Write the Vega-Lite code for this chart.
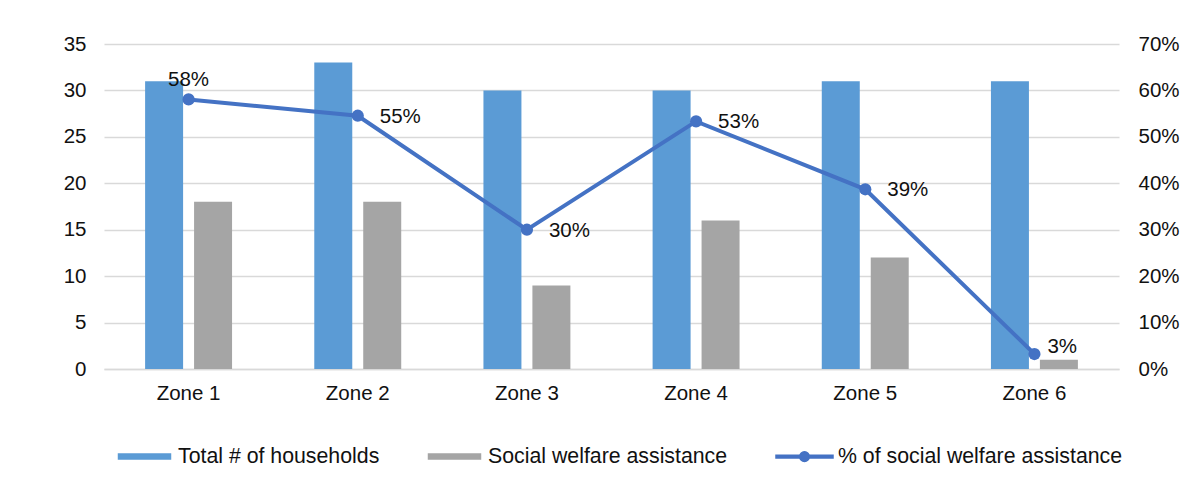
{
  "$schema": "https://vega.github.io/schema/vega-lite/v6.json",
  "width": 1015,
  "height": 325,
  "autosize": "none",
  "padding": {"left": 104, "top": 44, "right": 81, "bottom": 115},
  "background": "white",
  "config": {
    "font": "Liberation Sans",
    "view": {"stroke": null},
    "axis": {"labelFont": "Liberation Sans", "labelFontSize": 20.5, "labelColor": "#111111", "ticks": false, "title": null},
    "legend": {"labelFont": "Liberation Sans", "labelFontSize": 21.3, "labelColor": "#111111", "labelLimit": 0}
  },
  "datasets": {
    "bars": [
      {"zone": "Zone 1", "series": "Total # of households", "value": 31},
      {"zone": "Zone 1", "series": "Social welfare assistance", "value": 18},
      {"zone": "Zone 2", "series": "Total # of households", "value": 33},
      {"zone": "Zone 2", "series": "Social welfare assistance", "value": 18},
      {"zone": "Zone 3", "series": "Total # of households", "value": 30},
      {"zone": "Zone 3", "series": "Social welfare assistance", "value": 9},
      {"zone": "Zone 4", "series": "Total # of households", "value": 30},
      {"zone": "Zone 4", "series": "Social welfare assistance", "value": 16},
      {"zone": "Zone 5", "series": "Total # of households", "value": 31},
      {"zone": "Zone 5", "series": "Social welfare assistance", "value": 12},
      {"zone": "Zone 6", "series": "Total # of households", "value": 31},
      {"zone": "Zone 6", "series": "Social welfare assistance", "value": 1}
    ],
    "pct": [
      {"zone": "Zone 1", "pct": 0.5806, "pos": "above"},
      {"zone": "Zone 2", "pct": 0.5455, "pos": "right"},
      {"zone": "Zone 3", "pct": 0.3, "pos": "right"},
      {"zone": "Zone 4", "pct": 0.5333, "pos": "right"},
      {"zone": "Zone 5", "pct": 0.3871, "pos": "right"},
      {"zone": "Zone 6", "pct": 0.0323, "pos": "aboveright"}
    ]
  },
  "layer": [
    {
      "data": {"name": "bars"},
      "mark": {"type": "bar"},
      "encoding": {
        "x": {
          "field": "zone", "type": "nominal", "sort": null,
          "scale": {"paddingInner": 0.486, "paddingOuter": 0.243},
          "axis": {"labelAngle": 0, "labelPadding": 14, "domain": true, "domainColor": "#D9D9D9", "domainWidth": 1.5, "grid": false}
        },
        "xOffset": {
          "field": "series", "type": "nominal",
          "scale": {"domain": ["Total # of households", "Social welfare assistance"], "paddingInner": 0.224, "paddingOuter": 0}
        },
        "y": {
          "field": "value", "type": "quantitative",
          "scale": {"domain": [0, 35], "nice": false},
          "axis": {"values": [0, 5, 10, 15, 20, 25, 30, 35], "grid": true, "gridColor": "#D9D9D9", "gridWidth": 1.5, "domain": false, "labelPadding": 18}
        },
        "color": {
          "field": "series", "type": "nominal",
          "scale": {
            "domain": ["Total # of households", "Social welfare assistance", "% of social welfare assistance"],
            "range": ["#5B9BD5", "#A5A5A5", "#4472C4"]
          },
          "legend": {
            "title": null,
            "orient": "none",
            "legendX": 11,
            "legendY": 383,
            "direction": "horizontal",
            "symbolSize": 3249,
            "labelOffset": 4,
            "columnPadding": 45,
            "encode": {
              "symbols": {
                "update": {
                  "shape": {"signal": "datum.value === '% of social welfare assistance' ? 'M-1,-0.05H1V0.05H-1Z M0.17,0A0.17,0.17 0 1,1 -0.17,0A0.17,0.17 0 1,1 0.17,0Z' : 'M-0.912,-0.088H0.912V0.088H-0.912Z'"},
                  "fill": {"scale": "color", "field": "value"},
                  "stroke": {"value": "transparent"},
                  "opacity": {"value": 1}
                }
              }
            }
          }
        }
      }
    },
    {
      "data": {"name": "pct"},
      "encoding": {
        "x": {"field": "zone", "type": "nominal", "sort": null},
        "y": {
          "field": "pct", "type": "quantitative",
          "scale": {"domain": [0, 0.7], "nice": false},
          "axis": {"orient": "right", "format": ".0%", "values": [0, 0.1, 0.2, 0.3, 0.4, 0.5, 0.6, 0.7], "grid": false, "domain": false, "labelPadding": 19}
        }
      },
      "layer": [
        {
          "mark": {"type": "line", "strokeWidth": 4, "point": {"filled": true, "size": 150, "opacity": 1}},
          "encoding": {"color": {"datum": "% of social welfare assistance", "type": "nominal"}}
        },
        {
          "transform": [{"filter": "datum.pos === 'above'"}],
          "mark": {"type": "text", "fontSize": 20.5, "font": "Liberation Sans", "color": "#111111", "align": "center", "baseline": "alphabetic", "dy": -13},
          "encoding": {"text": {"field": "pct", "type": "quantitative", "format": ".0%"}}
        },
        {
          "transform": [{"filter": "datum.pos === 'right'"}],
          "mark": {"type": "text", "fontSize": 20.5, "font": "Liberation Sans", "color": "#111111", "align": "left", "baseline": "middle", "dx": 22, "dy": 1},
          "encoding": {"text": {"field": "pct", "type": "quantitative", "format": ".0%"}}
        },
        {
          "transform": [{"filter": "datum.pos === 'aboveright'"}],
          "mark": {"type": "text", "fontSize": 20.5, "font": "Liberation Sans", "color": "#111111", "align": "left", "baseline": "middle", "dx": 13, "dy": -7},
          "encoding": {"text": {"field": "pct", "type": "quantitative", "format": ".0%"}}
        }
      ]
    }
  ],
  "resolve": {"scale": {"y": "independent"}}
}
